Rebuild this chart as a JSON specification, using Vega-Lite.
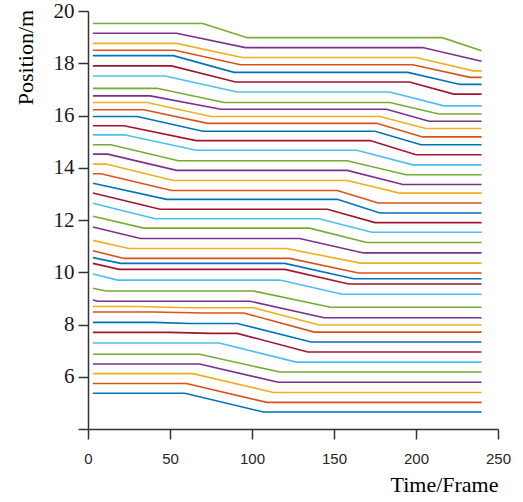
{
  "$schema": "https://vega.github.io/schema/vega-lite/v6.json",
  "autosize": "none",
  "width": 410,
  "height": 418,
  "padding": {"left": 88, "top": 11, "right": 25, "bottom": 73},
  "background": "white",
  "config": {"view": {"stroke": null}},
  "data": {"values": [
    {"s":40,"t":3,"v":19.52},{"s":40,"t":70,"v":19.52},{"s":40,"t":97,"v":18.98},{"s":40,"t":216,"v":18.98},{"s":40,"t":240,"v":18.48},
    {"s":39,"t":3,"v":19.15},{"s":39,"t":54,"v":19.15},{"s":39,"t":96,"v":18.6},{"s":39,"t":204,"v":18.6},{"s":39,"t":240,"v":18.08},
    {"s":38,"t":3,"v":18.76},{"s":38,"t":54,"v":18.76},{"s":38,"t":94,"v":18.22},{"s":38,"t":200,"v":18.22},{"s":38,"t":235,"v":17.71},{"s":38,"t":240,"v":17.71},
    {"s":37,"t":3,"v":18.5},{"s":37,"t":53,"v":18.5},{"s":37,"t":93,"v":17.94},{"s":37,"t":198,"v":17.94},{"s":37,"t":233,"v":17.46},{"s":37,"t":240,"v":17.46},
    {"s":36,"t":3,"v":18.29},{"s":36,"t":52,"v":18.29},{"s":36,"t":89,"v":17.65},{"s":36,"t":195,"v":17.65},{"s":36,"t":227,"v":17.19},{"s":36,"t":240,"v":17.19},
    {"s":35,"t":3,"v":17.9},{"s":35,"t":51,"v":17.9},{"s":35,"t":90,"v":17.28},{"s":35,"t":196,"v":17.28},{"s":35,"t":223,"v":16.82},{"s":35,"t":240,"v":16.82},
    {"s":34,"t":3,"v":17.51},{"s":34,"t":47,"v":17.51},{"s":34,"t":91,"v":16.9},{"s":34,"t":184,"v":16.9},{"s":34,"t":217,"v":16.37},{"s":34,"t":240,"v":16.37},
    {"s":33,"t":3,"v":17.04},{"s":33,"t":42,"v":17.04},{"s":33,"t":83,"v":16.5},{"s":33,"t":184,"v":16.5},{"s":33,"t":214,"v":16.06},{"s":33,"t":240,"v":16.06},
    {"s":32,"t":3,"v":16.75},{"s":32,"t":38,"v":16.75},{"s":32,"t":81,"v":16.24},{"s":32,"t":182,"v":16.24},{"s":32,"t":208,"v":15.78},{"s":32,"t":240,"v":15.78},
    {"s":31,"t":3,"v":16.5},{"s":31,"t":36,"v":16.5},{"s":31,"t":75,"v":15.96},{"s":31,"t":178,"v":15.96},{"s":31,"t":206,"v":15.5},{"s":31,"t":240,"v":15.5},
    {"s":30,"t":3,"v":16.22},{"s":30,"t":34,"v":16.22},{"s":30,"t":73,"v":15.7},{"s":30,"t":176,"v":15.7},{"s":30,"t":204,"v":15.18},{"s":30,"t":240,"v":15.18},
    {"s":29,"t":3,"v":15.96},{"s":29,"t":30,"v":15.96},{"s":29,"t":70,"v":15.4},{"s":29,"t":175,"v":15.4},{"s":29,"t":203,"v":14.88},{"s":29,"t":240,"v":14.88},
    {"s":28,"t":3,"v":15.61},{"s":28,"t":22,"v":15.61},{"s":28,"t":66,"v":15.04},{"s":28,"t":172,"v":15.04},{"s":28,"t":200,"v":14.5},{"s":28,"t":240,"v":14.5},
    {"s":27,"t":3,"v":15.26},{"s":27,"t":22,"v":15.26},{"s":27,"t":66,"v":14.67},{"s":27,"t":164,"v":14.67},{"s":27,"t":198,"v":14.11},{"s":27,"t":240,"v":14.11},
    {"s":26,"t":3,"v":14.88},{"s":26,"t":14,"v":14.88},{"s":26,"t":55,"v":14.27},{"s":26,"t":158,"v":14.27},{"s":26,"t":194,"v":13.73},{"s":26,"t":240,"v":13.73},
    {"s":25,"t":3,"v":14.52},{"s":25,"t":12,"v":14.52},{"s":25,"t":54,"v":13.9},{"s":25,"t":158,"v":13.9},{"s":25,"t":192,"v":13.36},{"s":25,"t":240,"v":13.36},
    {"s":24,"t":3,"v":14.14},{"s":24,"t":11,"v":14.14},{"s":24,"t":52,"v":13.51},{"s":24,"t":158,"v":13.51},{"s":24,"t":190,"v":13.03},{"s":24,"t":240,"v":13.03},
    {"s":23,"t":3,"v":13.77},{"s":23,"t":8,"v":13.77},{"s":23,"t":51,"v":13.13},{"s":23,"t":152,"v":13.13},{"s":23,"t":177,"v":12.65},{"s":23,"t":240,"v":12.65},
    {"s":22,"t":3,"v":13.41},{"s":22,"t":48,"v":12.79},{"s":22,"t":152,"v":12.79},{"s":22,"t":178,"v":12.27},{"s":22,"t":240,"v":12.27},
    {"s":21,"t":3,"v":13.03},{"s":21,"t":44,"v":12.41},{"s":21,"t":146,"v":12.41},{"s":21,"t":175,"v":11.9},{"s":21,"t":240,"v":11.9},
    {"s":20,"t":3,"v":12.64},{"s":20,"t":41,"v":12.05},{"s":20,"t":141,"v":12.05},{"s":20,"t":173,"v":11.53},{"s":20,"t":240,"v":11.53},
    {"s":19,"t":3,"v":12.14},{"s":19,"t":34,"v":11.69},{"s":19,"t":135,"v":11.69},{"s":19,"t":170,"v":11.14},{"s":19,"t":240,"v":11.14},
    {"s":18,"t":3,"v":11.73},{"s":18,"t":32,"v":11.29},{"s":18,"t":129,"v":11.29},{"s":18,"t":168,"v":10.74},{"s":18,"t":240,"v":10.74},
    {"s":17,"t":3,"v":11.22},{"s":17,"t":25,"v":10.91},{"s":17,"t":121,"v":10.91},{"s":17,"t":166,"v":10.35},{"s":17,"t":240,"v":10.35},
    {"s":16,"t":3,"v":10.82},{"s":16,"t":22,"v":10.53},{"s":16,"t":123,"v":10.53},{"s":16,"t":165,"v":9.97},{"s":16,"t":240,"v":9.97},
    {"s":15,"t":3,"v":10.56},{"s":15,"t":20,"v":10.34},{"s":15,"t":120,"v":10.34},{"s":15,"t":162,"v":9.75},{"s":15,"t":240,"v":9.75},
    {"s":14,"t":3,"v":10.34},{"s":14,"t":19,"v":10.11},{"s":14,"t":120,"v":10.11},{"s":14,"t":159,"v":9.55},{"s":14,"t":240,"v":9.55},
    {"s":13,"t":3,"v":9.93},{"s":13,"t":18,"v":9.7},{"s":13,"t":117,"v":9.7},{"s":13,"t":155,"v":9.16},{"s":13,"t":240,"v":9.16},
    {"s":12,"t":3,"v":9.39},{"s":12,"t":11,"v":9.28},{"s":12,"t":101,"v":9.28},{"s":12,"t":148,"v":8.66},{"s":12,"t":240,"v":8.66},
    {"s":11,"t":3,"v":8.94},{"s":11,"t":6,"v":8.89},{"s":11,"t":99,"v":8.89},{"s":11,"t":144,"v":8.26},{"s":11,"t":240,"v":8.26},
    {"s":10,"t":3,"v":8.69},{"s":10,"t":30,"v":8.69},{"s":10,"t":60,"v":8.64},{"s":10,"t":101,"v":8.64},{"s":10,"t":141,"v":7.98},{"s":10,"t":240,"v":7.98},
    {"s":9,"t":3,"v":8.48},{"s":9,"t":40,"v":8.48},{"s":9,"t":70,"v":8.44},{"s":9,"t":95,"v":8.44},{"s":9,"t":138,"v":7.71},{"s":9,"t":240,"v":7.71},
    {"s":8,"t":3,"v":8.08},{"s":8,"t":40,"v":8.08},{"s":8,"t":62,"v":8.04},{"s":8,"t":91,"v":8.04},{"s":8,"t":136,"v":7.33},{"s":8,"t":240,"v":7.33},
    {"s":7,"t":3,"v":7.7},{"s":7,"t":50,"v":7.7},{"s":7,"t":75,"v":7.66},{"s":7,"t":91,"v":7.66},{"s":7,"t":134,"v":6.95},{"s":7,"t":240,"v":6.95},
    {"s":6,"t":3,"v":7.29},{"s":6,"t":80,"v":7.29},{"s":6,"t":127,"v":6.56},{"s":6,"t":240,"v":6.56},
    {"s":5,"t":3,"v":6.86},{"s":5,"t":68,"v":6.86},{"s":5,"t":117,"v":6.18},{"s":5,"t":240,"v":6.18},
    {"s":4,"t":3,"v":6.49},{"s":4,"t":68,"v":6.49},{"s":4,"t":116,"v":5.79},{"s":4,"t":240,"v":5.79},
    {"s":3,"t":3,"v":6.12},{"s":3,"t":64,"v":6.12},{"s":3,"t":113,"v":5.4},{"s":3,"t":240,"v":5.4},
    {"s":2,"t":3,"v":5.74},{"s":2,"t":60,"v":5.74},{"s":2,"t":109,"v":5.02},{"s":2,"t":240,"v":5.02},
    {"s":1,"t":3,"v":5.37},{"s":1,"t":59,"v":5.37},{"s":1,"t":107,"v":4.65},{"s":1,"t":240,"v":4.65}
  ]},
  "mark": {"type": "line", "strokeWidth": 1.6, "clip": true},
  "encoding": {
    "x": {"field": "t", "type": "quantitative",
      "scale": {"domain": [0, 250], "nice": false, "zero": false},
      "axis": {"values": [0, 50, 100, 150, 200, 250], "grid": false,
        "title": "Time/Frame", "titleFont": "Liberation Serif", "titleFontSize": 22, "titleFontWeight": "normal", "titleColor": "#000",
        "titleAnchor": "end", "titleAlign": "right", "titleBaseline": "alphabetic", "titleX": 410, "titleY": 62,
        "labelFont": "Liberation Sans", "labelFontSize": 15, "labelColor": "#262626", "labelPadding": 12, "labelFlush": false,
        "tickSize": 10, "tickWidth": 1.5, "tickColor": "#333", "domainColor": "#333", "domainWidth": 1.5}},
    "y": {"field": "v", "type": "quantitative",
      "scale": {"domain": [4, 20], "nice": false, "zero": false},
      "axis": {"values": [4, 6, 8, 10, 12, 14, 16, 18, 20], "grid": false,
        "labelExpr": "datum.value == 4 ? '' : datum.label",
        "title": "Position/m", "titleFont": "Liberation Serif", "titleFontSize": 22, "titleFontWeight": "normal", "titleColor": "#000",
        "titleAngle": -90, "titleAlign": "center", "titleBaseline": "middle", "titleX": -63, "titleY": 46,
        "labelFont": "Liberation Serif", "labelFontSize": 21, "labelColor": "#1a1a1a", "labelPadding": 4, "labelFlush": false,
        "tickSize": 10, "tickWidth": 1.5, "tickColor": "#333", "domainColor": "#333", "domainWidth": 1.5}},
    "detail": {"field": "s"},
    "color": {"field": "s", "type": "nominal", "legend": null,
      "scale": {"domain": [1,2,3,4,5,6,7,8,9,10,11,12,13,14,15,16,17,18,19,20,21,22,23,24,25,26,27,28,29,30,31,32,33,34,35,36,37,38,39,40],
        "range": ["#0072BD","#D95319","#EDB120","#7E2F8E","#77AC30","#4DBEEE","#A2142F",
                  "#0072BD","#D95319","#EDB120","#7E2F8E","#77AC30","#4DBEEE","#A2142F",
                  "#0072BD","#D95319","#EDB120","#7E2F8E","#77AC30","#4DBEEE","#A2142F",
                  "#0072BD","#D95319","#EDB120","#7E2F8E","#77AC30","#4DBEEE","#A2142F",
                  "#0072BD","#D95319","#EDB120","#7E2F8E","#77AC30","#4DBEEE","#A2142F",
                  "#0072BD","#D95319","#EDB120","#7E2F8E","#77AC30"]}}
  }
}
